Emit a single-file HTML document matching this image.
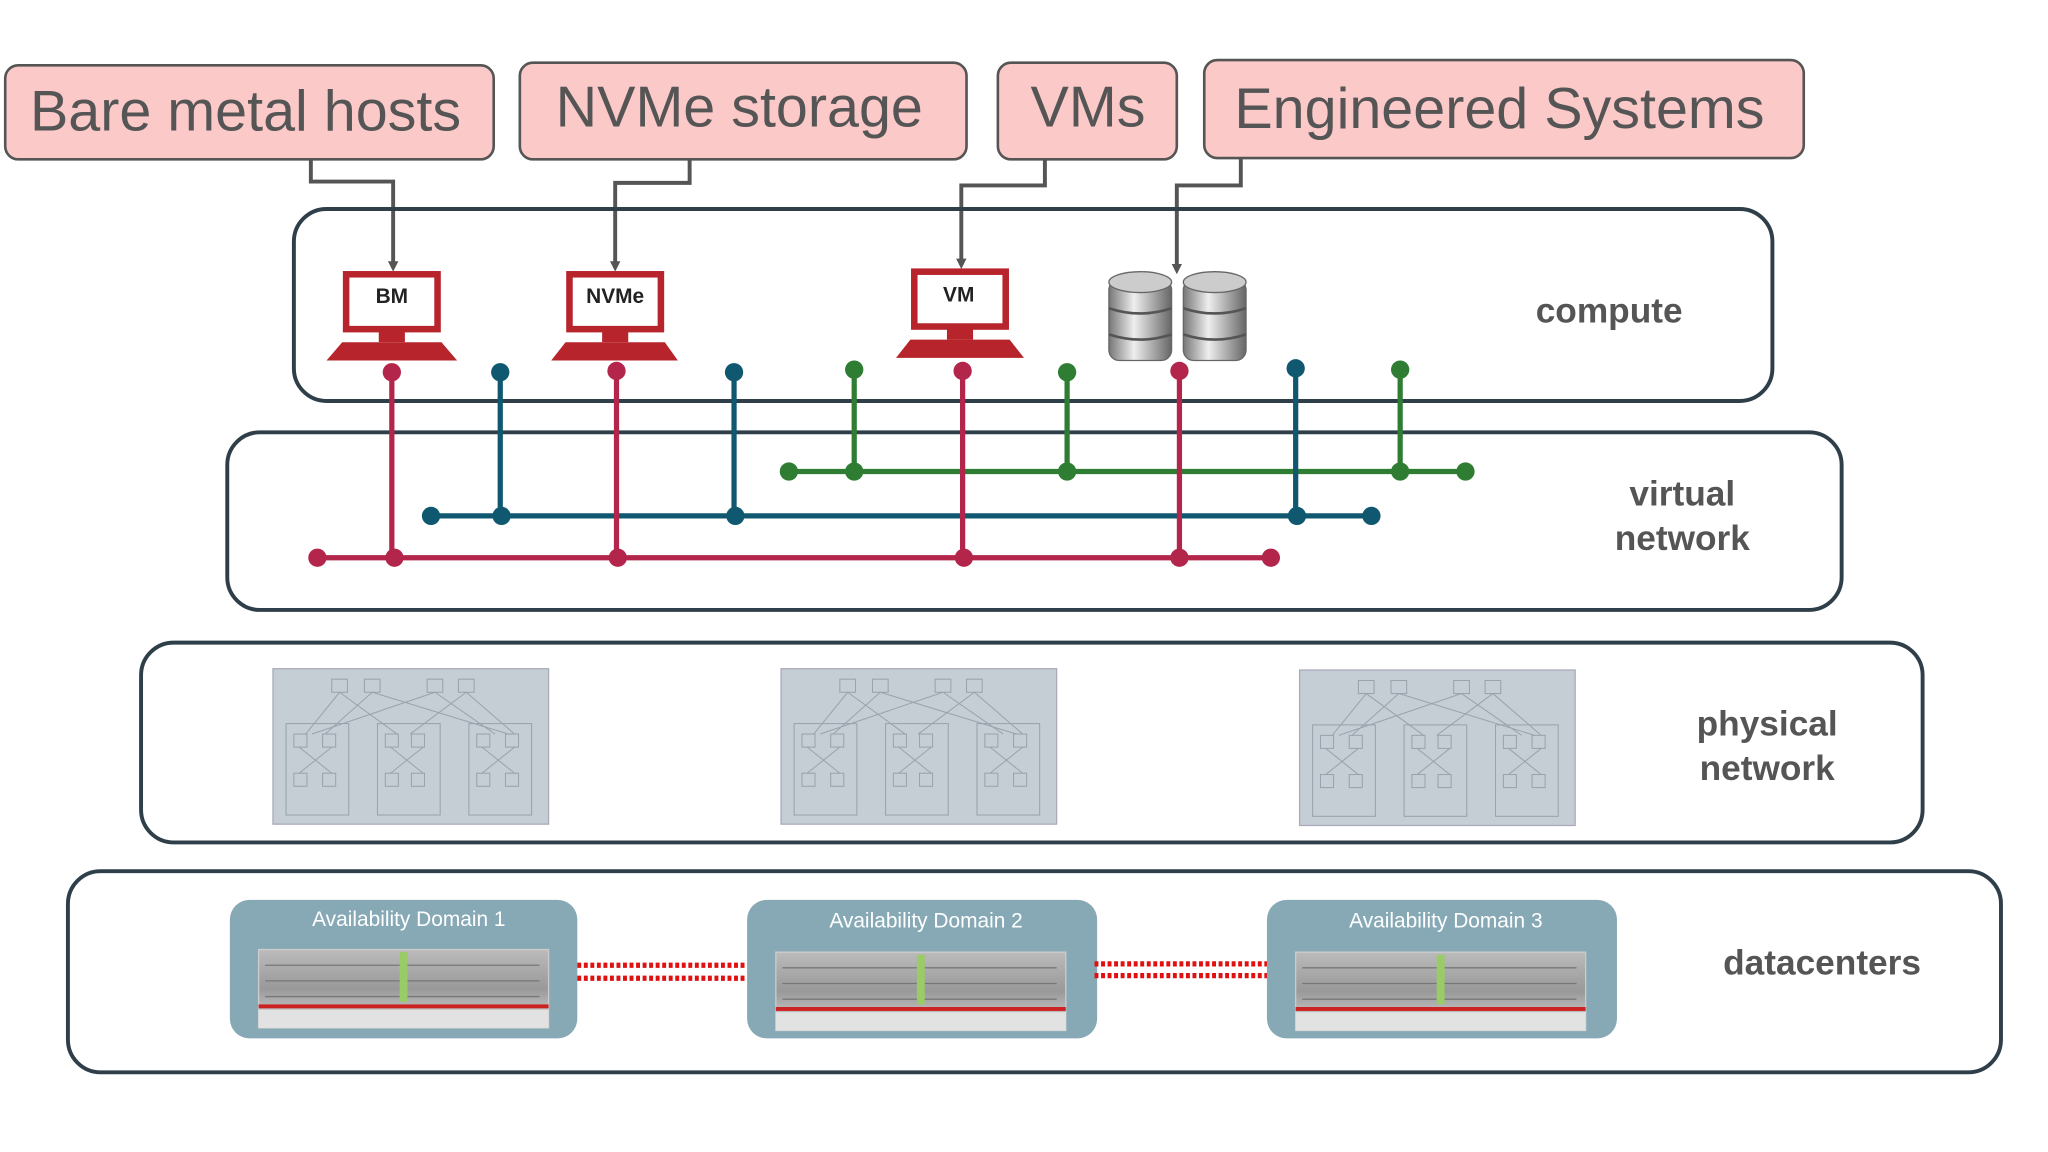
<!DOCTYPE html>
<html><head><meta charset="utf-8"><style>html,body{margin:0;padding:0;background:#fff}svg{display:block}</style></head><body>
<svg width="2048" height="1152" viewBox="0 0 1568 882" preserveAspectRatio="none" xmlns="http://www.w3.org/2000/svg" font-family="Liberation Sans, sans-serif">
<defs>
<marker id="ar" markerWidth="8" markerHeight="8" refX="5" refY="4" orient="auto" markerUnits="userSpaceOnUse"><path d="M0,0 L8,4 L0,8 z" fill="#555"/></marker>
<linearGradient id="cyl" x1="0" x2="1"><stop offset="0" stop-color="#777"/><stop offset="0.4" stop-color="#eee"/><stop offset="1" stop-color="#666"/></linearGradient>
<linearGradient id="srv" x1="0" y1="0" x2="0" y2="1"><stop offset="0" stop-color="#bbb"/><stop offset="0.5" stop-color="#999"/><stop offset="1" stop-color="#ddd"/></linearGradient>
<g id="pd">
<rect x="0" y="0" width="211" height="119" fill="#c6ced5" stroke="#aab" stroke-width="1"/>
<g stroke="#99a3ad" stroke-width="0.8" fill="none">
<rect x="45" y="8" width="12" height="10"/><rect x="70" y="8" width="12" height="10"/><rect x="118" y="8" width="12" height="10"/><rect x="142" y="8" width="12" height="10"/>
<rect x="10" y="42" width="48" height="70"/><rect x="80" y="42" width="48" height="70"/><rect x="150" y="42" width="48" height="70"/>
<path d="M51,18 L25,50 M51,18 L95,50 M76,18 L180,50 M76,18 L40,50 M124,18 L30,50 M124,18 L170,50 M148,18 L105,50 M148,18 L185,50 M20,60 L45,80 M45,60 L20,80 M90,60 L115,80 M115,60 L90,80 M160,60 L185,80 M185,60 L160,80"/>
<rect x="16" y="50" width="10" height="10"/><rect x="38" y="50" width="10" height="10"/><rect x="86" y="50" width="10" height="10"/><rect x="106" y="50" width="10" height="10"/><rect x="156" y="50" width="10" height="10"/><rect x="178" y="50" width="10" height="10"/>
<rect x="16" y="80" width="10" height="10"/><rect x="38" y="80" width="10" height="10"/><rect x="86" y="80" width="10" height="10"/><rect x="106" y="80" width="10" height="10"/><rect x="156" y="80" width="10" height="10"/><rect x="178" y="80" width="10" height="10"/>
</g></g>
<g id="sv">
<rect x="0" y="0" width="222" height="60" fill="url(#srv)" stroke="#ccc"/>
<rect x="0" y="42" width="222" height="3" fill="#c22"/>
<rect x="0" y="46" width="222" height="14" fill="#e2e2e2"/>
<path d="M5,12 H215 M5,24 H215 M5,36 H215" stroke="#777" stroke-width="1"/>
<rect x="108" y="2" width="6" height="38" fill="#9c6"/>
</g>
</defs>
<g fill="#fcc9c9" stroke="#555" stroke-width="2">
<rect x="4" y="50" width="374" height="72" rx="10"/>
<rect x="398" y="48" width="342" height="74" rx="10"/>
<rect x="764" y="48" width="137" height="74" rx="10"/>
<rect x="922" y="46" width="459" height="75" rx="10"/>
</g>
<g fill="#555" font-size="44">
<text x="188" y="100" text-anchor="middle">Bare metal hosts</text>
<text x="566" y="97" text-anchor="middle">NVMe storage</text>
<text x="833" y="97" text-anchor="middle">VMs</text>
<text x="1148" y="98" text-anchor="middle">Engineered Systems</text>
</g>
<g fill="none" stroke="#555" stroke-width="3" marker-end="url(#ar)">
<path d="M238,122 V139 H301 V205"/>
<path d="M528,122 V140 H471 V205"/>
<path d="M800,122 V142 H736 V203"/>
<path d="M950,121 V142 H901 V207"/>
</g>
<g fill="none" stroke="#2f3f4a" stroke-width="3">
<rect x="225" y="160" width="1132" height="147" rx="25"/>
<rect x="174" y="331" width="1236" height="136" rx="25"/>
<rect x="108" y="492" width="1364" height="153" rx="25"/>
<rect x="52" y="667" width="1480" height="154" rx="25"/>
</g>
<g fill="#555" font-size="27" font-weight="bold" text-anchor="middle">
<text x="1232" y="247">compute</text>
<text x="1288" y="387">virtual</text><text x="1288" y="421">network</text>
<text x="1353" y="563">physical</text><text x="1353" y="597">network</text>
<text x="1395" y="746">datacenters</text>
</g>
<g stroke="#b8242c" stroke-width="5" fill="#fff">
<rect x="265" y="210" width="70" height="42"/>
<rect x="436" y="210" width="70" height="42"/>
<rect x="700" y="208" width="70" height="42"/>
</g>
<g fill="#b8242c">
<rect x="290" y="254" width="20" height="8"/><path d="M262,262 H338 L350,276 H250 Z"/>
<rect x="461" y="254" width="20" height="8"/><path d="M433,262 H509 L519,276 H422 Z"/>
<rect x="725" y="252" width="20" height="8"/><path d="M697,260 H773 L784,274 H686 Z"/>
</g>
<g font-size="16" font-weight="bold" fill="#222" text-anchor="middle">
<text x="300" y="232">BM</text><text x="471" y="232">NVMe</text><text x="734" y="231">VM</text>
</g>
<g fill="url(#cyl)" stroke="#666" stroke-width="1">
<rect x="849" y="214" width="48" height="62" rx="8"/>
<rect x="906" y="214" width="48" height="62" rx="8"/>
<ellipse cx="873" cy="216" rx="24" ry="8" fill="#ccc"/>
<ellipse cx="930" cy="216" rx="24" ry="8" fill="#ccc"/>
</g>
<g stroke="#555" stroke-width="2" fill="none">
<path d="M849,236 Q873,244 897,236 M849,256 Q873,264 897,256 M906,236 Q930,244 954,236 M906,256 Q930,264 954,256"/>
</g>
<g stroke-width="4" fill="none">
<g stroke="#2e7d32"><path d="M604,361 H1122 M654,283 V361 M817,285 V361 M1072,283 V361"/></g>
<g stroke="#0f5870"><path d="M330,395 H1050 M383,285 V395 M562,285 V395 M992,282 V395"/></g>
<g stroke="#b3254a"><path d="M243,427 H973 M300,285 V427 M472,284 V427 M737,284 V427 M903,284 V427"/></g>
</g>
<g fill="#2e7d32"><circle cx="654" cy="283" r="7"/><circle cx="817" cy="285" r="7"/><circle cx="1072" cy="283" r="7"/><circle cx="604" cy="361" r="7"/><circle cx="654" cy="361" r="7"/><circle cx="817" cy="361" r="7"/><circle cx="1072" cy="361" r="7"/><circle cx="1122" cy="361" r="7"/></g>
<g fill="#0f5870"><circle cx="383" cy="285" r="7"/><circle cx="562" cy="285" r="7"/><circle cx="992" cy="282" r="7"/><circle cx="330" cy="395" r="7"/><circle cx="384" cy="395" r="7"/><circle cx="563" cy="395" r="7"/><circle cx="993" cy="395" r="7"/><circle cx="1050" cy="395" r="7"/></g>
<g fill="#b3254a"><circle cx="300" cy="285" r="7"/><circle cx="472" cy="284" r="7"/><circle cx="737" cy="284" r="7"/><circle cx="903" cy="284" r="7"/><circle cx="243" cy="427" r="7"/><circle cx="302" cy="427" r="7"/><circle cx="473" cy="427" r="7"/><circle cx="738" cy="427" r="7"/><circle cx="903" cy="427" r="7"/><circle cx="973" cy="427" r="7"/></g>
<use href="#pd" x="209" y="512"/>
<use href="#pd" x="598" y="512"/>
<use href="#pd" x="995" y="513"/>
<g fill="#87a9b5">
<rect x="176" y="689" width="266" height="106" rx="15"/>
<rect x="572" y="689" width="268" height="106" rx="15"/>
<rect x="970" y="689" width="268" height="106" rx="15"/>
</g>
<g fill="#fff" font-size="16" text-anchor="middle">
<text x="313" y="709">Availability  Domain 1</text>
<text x="709" y="710">Availability  Domain 2</text>
<text x="1107" y="710">Availability  Domain 3</text>
</g>
<use href="#sv" x="198" y="727"/>
<use href="#sv" x="594" y="729"/>
<use href="#sv" x="992" y="729"/>
<g stroke="#e01010" stroke-width="4" stroke-dasharray="3,2">
<path d="M442,739 H572 M442,749 H572 M838,738 H970 M838,747 H970"/>
</g>
</svg>
</body></html>
